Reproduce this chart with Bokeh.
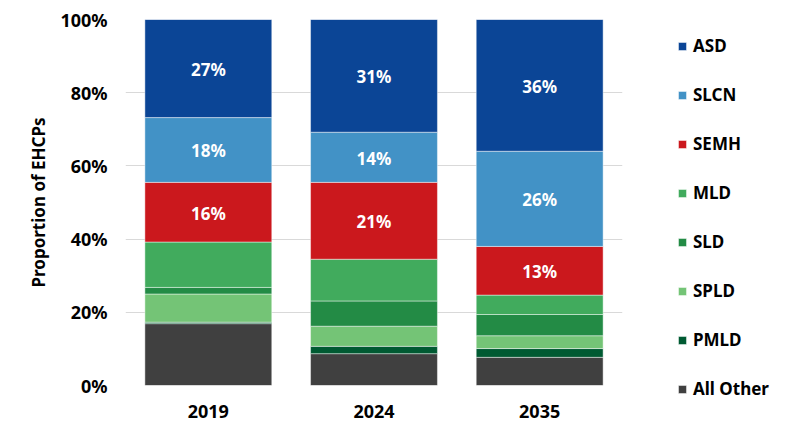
from bokeh.plotting import figure
from bokeh.models import ColumnDataSource, FactorRange, FixedTicker, PrintfTickFormatter, Legend, LegendItem
from bokeh.core.properties import value
from bokeh.embed import file_html
from bokeh.resources import INLINE

years = ["2019", "2024", "2035"]
categories = ["All Other", "PMLD", "SPLD", "SLD", "MLD", "SEMH", "SLCN", "ASD"]
all_other = [16.9, 8.7, 7.7]
pmld = [0.4, 2.0, 2.4]
spld = [7.7, 5.5, 3.5]
sld = [1.8, 6.9, 5.8]
mld = [12.4, 11.4, 5.3]
semh = [16.3, 21.0, 13.3]
slcn = [17.7, 13.7, 26.0]
asd = [26.8, 30.8, 36.0]
labelled = ["SEMH", "SLCN", "ASD"]
colors = ["#404040", "#005A32", "#74C476", "#238B45", "#41AB5D", "#CB181D", "#4292C6", "#0B4596"]
yticks = [0, 20, 40, 60, 80, 100]

series = [all_other, pmld, spld, sld, mld, semh, slcn, asd]
data = {"year": years}
for c, s in zip(categories, series):
    data[c] = s
source = ColumnDataSource(data)

FONT = "Noto Sans"

p = figure(x_range=FactorRange(*years), y_range=(0, 100),
           frame_width=497, frame_height=366,
           min_border_left=125, min_border_right=178, min_border_top=19, min_border_bottom=47,
           output_backend="svg", toolbar_location=None)
p.x_range.range_padding = 0

renderers = p.vbar_stack(categories, x="year", width=0.766, source=source, color=colors,
                         line_color="white", line_alpha=0.45, line_width=1)

# data labels
lx, ly, lt = [], [], []
for i, y in enumerate(years):
    base = 0.0
    for c, s in zip(categories, series):
        v = s[i]
        if c in labelled:
            lx.append(y)
            ly.append(base + v / 2)
            lt.append(f"{round(v)}%")
        base += v
lsrc = ColumnDataSource(dict(x=lx, y=ly, t=lt))
p.text(x="x", y="y", text="t", source=lsrc, text_color="white", text_align="center",
       text_baseline="middle", text_font=value(FONT), text_font_style="bold",
       text_font_size="17px", y_offset=1)

# legend
items = [LegendItem(label=c, renderers=[r]) for c, r in zip(categories[::-1], renderers[::-1])]
legend = Legend(items=items, location=(55, -15), orientation="vertical",
                glyph_width=10, glyph_height=10, label_height=20, spacing=26,
                label_standoff=6, padding=0, margin=0, border_line_color=None,
                background_fill_alpha=0, label_text_font=FONT, label_text_font_style="bold",
                label_text_font_size="17px", label_text_color="#000000")
p.add_layout(legend, "right")

p.yaxis.ticker = FixedTicker(ticks=yticks)
p.yaxis.formatter = PrintfTickFormatter(format="%d%%")
p.yaxis.axis_label = "Proportion of EHCPs"
p.yaxis.axis_label_text_font = FONT
p.yaxis.axis_label_text_font_style = "bold"
p.yaxis.axis_label_text_font_size = "17px"
p.yaxis.axis_label_text_color = "#000000"
p.yaxis.axis_label_standoff = 7
p.yaxis.major_label_standoff = 12
for ax in (p.xaxis, p.yaxis):
    ax.axis_line_color = None
    ax.major_tick_line_color = None
    ax.minor_tick_line_color = None
    ax.major_label_text_font = FONT
    ax.major_label_text_font_style = "bold"
    ax.major_label_text_font_size = "18px"
    ax.major_label_text_color = "#000000"
p.xaxis.major_label_standoff = 13

p.xgrid.grid_line_color = None
p.ygrid.grid_line_color = "#D9D9D9"
p.ygrid.grid_line_width = 1
p.outline_line_color = None

open("out.html", "w").write(file_html(p, INLINE))
